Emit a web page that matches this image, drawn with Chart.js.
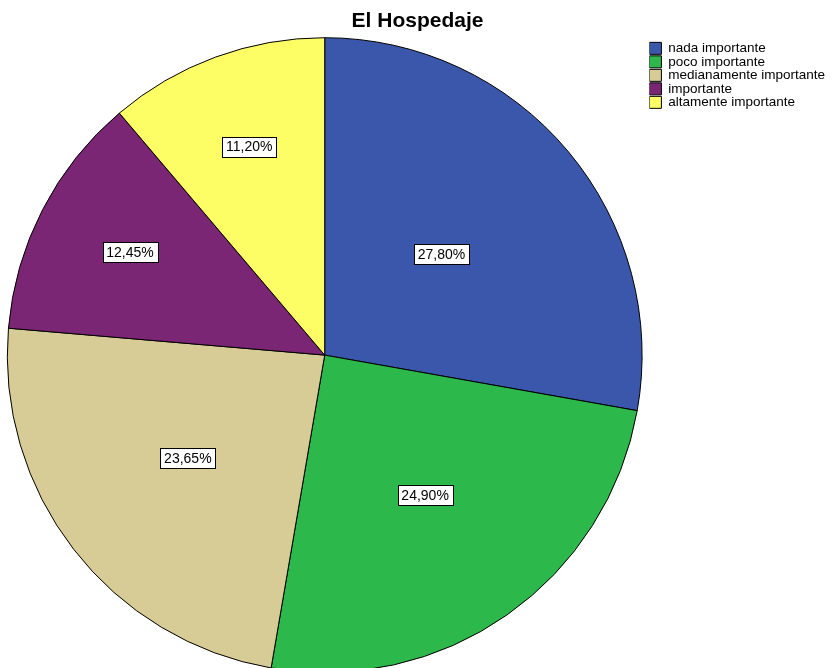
<!DOCTYPE html>
<html>
<head>
<meta charset="utf-8">
<script src="https://cdn.jsdelivr.net/npm/chart.js@4.4.0/dist/chart.umd.min.js"></script>
<style>
  html, body { margin: 0; padding: 0; background: #fff; overflow: hidden; }
  #wrap { position: absolute; left: 0; top: 0; width: 835px; height: 673px; }
</style>
</head>
<body>
<div id="wrap"><canvas id="pieChart" width="835" height="673"></canvas></div>
<script>
// Data
var categories = ["nada importante", "poco importante", "medianamente importante", "importante", "altamente importante"];
var percentages = [27.80, 24.90, 23.65, 12.45, 11.20];
var sliceColors = ["#3b57ab", "#2db84b", "#d8cc96", "#7a2674", "#fdfd66"];

// where each value box sits along its slice radius (fraction of the radius)
var labelRadius = [0.48, 0.55, 0.545, 0.69, 0.69];

var valueBoxes = {
    id: "valueBoxes",
    afterDatasetsDraw: function (chart) {
        var ctx = chart.ctx;
        var meta = chart.getDatasetMeta(0);
        ctx.save();
        ctx.font = "14px 'Liberation Sans', Arial, sans-serif";
        ctx.textAlign = "center";
        ctx.textBaseline = "middle";
        meta.data.forEach(function (arc, i) {
            var p = arc.getProps(["x", "y", "startAngle", "endAngle", "outerRadius"], true);
            var mid = (p.startAngle + p.endAngle) / 2;
            var r = p.outerRadius * labelRadius[i];
            var x = p.x + Math.cos(mid) * r;
            var y = p.y + Math.sin(mid) * r - 3;
            var txt = percentages[i].toFixed(2).replace(".", ",") + "%";
            var w = Math.round(ctx.measureText(txt).width + 8);
            var h = 20;
            var bx = Math.round(x - w / 2) + 0.5;
            var by = Math.round(y - h / 2) + 0.5;
            ctx.fillStyle = "#fff";
            ctx.fillRect(bx, by, w, h);
            ctx.strokeStyle = "#000";
            ctx.lineWidth = 1;
            ctx.strokeRect(bx, by, w, h);
            ctx.fillStyle = "#000";
            ctx.fillText(txt, x, y + 1);
        });
        ctx.restore();
    }
};

var ctx = document.getElementById("pieChart").getContext("2d");
var pieChart = new Chart(ctx, {
    type: "pie",
    data: {
        labels: categories,
        datasets: [
            {
                data: percentages,
                backgroundColor: sliceColors,
                borderColor: "#000",
                borderWidth: 1,
            },
        ],
    },
    options: {
        responsive: false,
        animation: false,
        layout: { padding: 0 },
        plugins: {
            title: {
                display: true,
                text: "El Hospedaje",
                color: "#000",
                font: { family: "'Liberation Sans', Arial, sans-serif", size: 21, weight: "bold" },
                padding: { top: 9, bottom: 3 },
            },
            legend: {
                position: "right",
                align: "start",
                fullSize: false,
                title: {
                    display: true,
                    text: "",
                    font: { size: 2 },
                    padding: 1,
                },
                labels: {
                    color: "#000",
                    boxWidth: 12,
                    boxHeight: 12,
                    padding: 0,
                    font: { family: "'Liberation Sans', Arial, sans-serif", size: 13.5 },
                },
            },
            tooltip: { enabled: false },
        },
    },
    plugins: [valueBoxes],
});
</script>
</body>
</html>
